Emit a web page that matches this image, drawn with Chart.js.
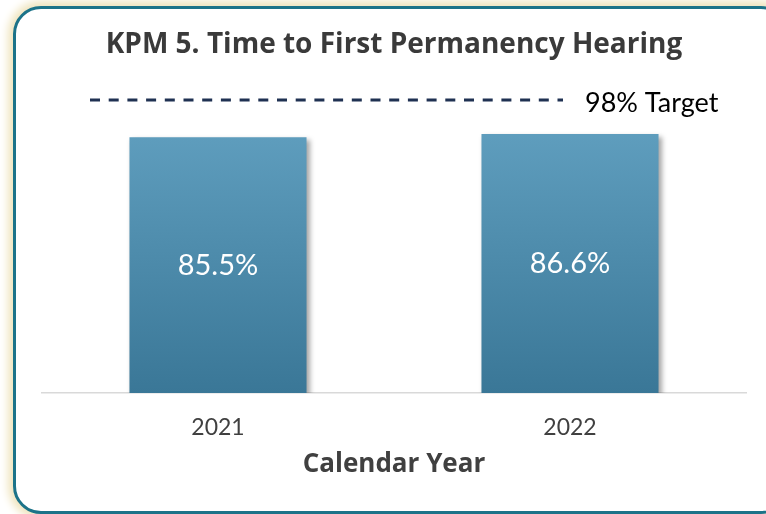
<!DOCTYPE html>
<html>
<head>
<meta charset="utf-8">
<script src="https://cdn.jsdelivr.net/npm/chart.js@4/dist/chart.umd.min.js"></script>
<style>
  html, body { margin: 0; padding: 0; background: #ffffff; overflow: hidden; }
  #wrap { position: relative; width: 766px; height: 514px; overflow: hidden; background: #fff; }
  #frame {
    position: absolute; left: 13px; top: 6px; width: 770px; height: 502px;
    border: 3px solid #1c7389; border-radius: 28px; background: #fff;
    box-shadow: 0 0 9px 5px #efe4bd;
  }
  canvas { position: absolute; left: 0; top: 0; }
</style>
</head>
<body>
<div id="wrap">
  <div id="frame"></div>
  <canvas id="c" width="766" height="514"></canvas>
</div>
<script>
const titleText = "KPM 5. Time to First Permanency Hearing";
const categories = ["2021", "2022"];
const values = [85.5, 86.6];
const targetValue = 98;
const targetLabel = "98% Target";
const xAxisTitle = "Calendar Year";

const FONT = "Lato, 'Open Sans', sans-serif";
const BOLDFONT = "'Open Sans', Lato, sans-serif";

const barShadow = {
  id: 'barShadow',
  beforeDatasetsDraw(chart) {
    const ctx = chart.ctx;
    ctx.save();
    ctx.shadowColor = 'rgba(0,0,0,0.35)';
    ctx.shadowBlur = 5;
    ctx.shadowOffsetX = 3;
    ctx.shadowOffsetY = 3;
  },
  afterDatasetsDraw(chart) {
    const ctx = chart.ctx;
    ctx.restore();
    // value labels inside bars
    const meta = chart.getDatasetMeta(0);
    ctx.save();
    ctx.fillStyle = '#ffffff';
    ctx.font = "29px " + FONT;
    ctx.textAlign = 'center';
    ctx.textBaseline = 'middle';
    meta.data.forEach((bar, i) => {
      const yMid = (bar.y + bar.base) / 2;
      ctx.fillText(values[i].toFixed(1) + '%', bar.x, yMid);
    });
    // target line
    const ys = chart.scales.y;
    const y = ys.getPixelForValue(targetValue);
    const area = chart.chartArea;
    ctx.strokeStyle = '#1f3152';
    ctx.lineWidth = 3;
    ctx.setLineDash([10, 8.7]);
    ctx.beginPath();
    ctx.moveTo(area.left + 48, y);
    ctx.lineTo(area.left + 521, y);
    ctx.stroke();
    ctx.setLineDash([]);
    ctx.fillStyle = '#000000';
    ctx.font = "27px " + FONT;
    ctx.textAlign = 'left';
    ctx.textBaseline = 'middle';
    ctx.fillText(targetLabel, area.left + 543, y + 3);
    ctx.restore();
  }
};

const ctx = document.getElementById('c').getContext('2d');
new Chart(ctx, {
  type: 'bar',
  data: {
    labels: categories,
    datasets: [{
      data: values,
      backgroundColor: (c) => {
        const area = c.chart.chartArea;
        if (!area) return '#4f8cad';
        const g = c.chart.ctx.createLinearGradient(0, area.top, 0, area.bottom);
        g.addColorStop(0, '#64a3c3');
        g.addColorStop(1, '#3a7797');
        return g;
      },
      borderWidth: 0,
      categoryPercentage: 1.0,
      barPercentage: 0.503
    }]
  },
  plugins: [barShadow],
  options: {
    responsive: false,
    animation: false,
    devicePixelRatio: 1,
    layout: { padding: { top: 28, left: 42, right: 20, bottom: 34 } },
    plugins: {
      legend: { display: false },
      tooltip: { enabled: false },
      title: {
        display: true,
        text: titleText,
        color: '#3a3a3a',
        font: { family: BOLDFONT, size: 28, weight: 'bold', lineHeight: 1.2 },
        padding: { top: 0, bottom: 32.4 }
      }
    },
    scales: {
      x: {
        afterFit(scale) { scale.height = 87; },
        grid: { display: false, drawTicks: false },
        border: { display: true, color: '#d9d9d9', width: 1.5 },
        ticks: { color: '#404040', font: { family: FONT, size: 23, lineHeight: 1.2 }, padding: 21 },
        title: {
          display: true, text: xAxisTitle, color: '#404040',
          font: { family: BOLDFONT, size: 26, weight: 'bold', lineHeight: 1.2 },
          padding: { top: 0, bottom: 0 }
        }
      },
      y: {
        display: false,
        min: 0, max: 100
      }
    }
  }
});
</script>
</body>
</html>
